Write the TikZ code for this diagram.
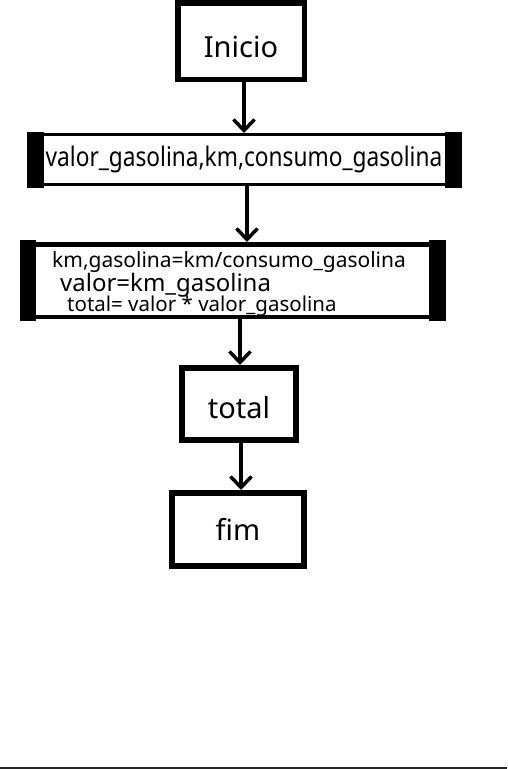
\documentclass[tikz,border=0pt]{standalone}
\usepackage{fontspec}
\setmainfont{Noto Sans}
\newfontfamily\estreita[FakeStretch=0.84]{Noto Sans}
\usetikzlibrary{arrows.meta, backgrounds}
\tikzstyle{caixa} = [rectangle, draw=black, line width=6pt, font=\fontsize{29}{35}\selectfont, text centered, inner sep=0pt, text depth=0pt]
\tikzstyle{dados} = [rectangle, draw=black, inner sep=0pt]
\tikzstyle{linha} = [anchor=base west, inner sep=0pt]
\tikzstyle{seta} = [line width=3.5pt, -{Straight Barb[length=11pt, width=21pt]}]

\begin{document}
\begin{tikzpicture}[x=1pt, y=-1pt, node distance=121pt]
			\useasboundingbox (0,0) rectangle (507,769);
			\node(inicio)[caixa, line width=5.5pt, minimum width=126.5pt, minimum height=76.5pt, text height=32pt] at (241,41) {Inicio};
			\node(entrada)[dados, below of=inicio, xshift=3pt, yshift=2.5pt, line width=3pt, minimum width=429pt, minimum height=50pt, font=\estreita\fontsize{27}{32}\selectfont]{valor\_gasolina,km,consumo\_gasolina};
			\node(calculo)[dados, below of=entrada, xshift=-11pt, line width=4.5pt, minimum width=417.5pt, minimum height=72.5pt]{};
			\node(total)[caixa, below of=calculo, xshift=6pt, yshift=-2.5pt, minimum width=114pt, minimum height=72pt, text height=28pt]{total};
			\node(fim)[caixa, below of=total, xshift=-1pt, yshift=-4.5pt, minimum width=132pt, minimum height=73pt, text height=21pt]{fim};

			\begin{scope}[on background layer]
				\node(linha1)[linha, font=\fontsize{21}{25}\selectfont] at (52,267) {km,gasolina=km/consumo\_gasolina};
				\node(linha2)[linha, font=\fontsize{24}{29}\selectfont] at (60,291) {valor=km\_gasolina};
				\node(linha3)[linha, font=\fontsize{20.5}{25}\selectfont] at (67,311) {total= valor * valor\_gasolina};
			\end{scope}

			% barras laterais
			\fill ([xshift=-1.5pt, yshift=1.5pt]entrada.north west) rectangle ([xshift=15.5pt, yshift=-1.5pt]entrada.south west);
			\fill ([xshift=-15.5pt, yshift=1.5pt]entrada.north east) rectangle ([xshift=1.5pt, yshift=-1.5pt]entrada.south east);
			\fill ([xshift=-2.25pt, yshift=2.25pt]calculo.north west) rectangle ([xshift=13.75pt, yshift=-2.25pt]calculo.south west);
			\fill ([xshift=-14.75pt, yshift=2.25pt]calculo.north east) rectangle ([xshift=2.25pt, yshift=-2.25pt]calculo.south east);

			\draw [seta] ([xshift=3pt]inicio.south) -- ([xshift=3pt]inicio.south |- entrada.north);
			\draw [seta] ([xshift=3pt]entrada.south) -- ([xshift=3pt]entrada.south |- calculo.north);
			\draw [seta] ([xshift=7pt]calculo.south) -- ([xshift=7pt]calculo.south |- total.north);
			\draw [seta] ([xshift=2pt]total.south) -- ([xshift=2pt]total.south |- fim.north);

			\fill[black!85] (0,766.5) rectangle (507,769);
		\end{tikzpicture}
\end{document}
